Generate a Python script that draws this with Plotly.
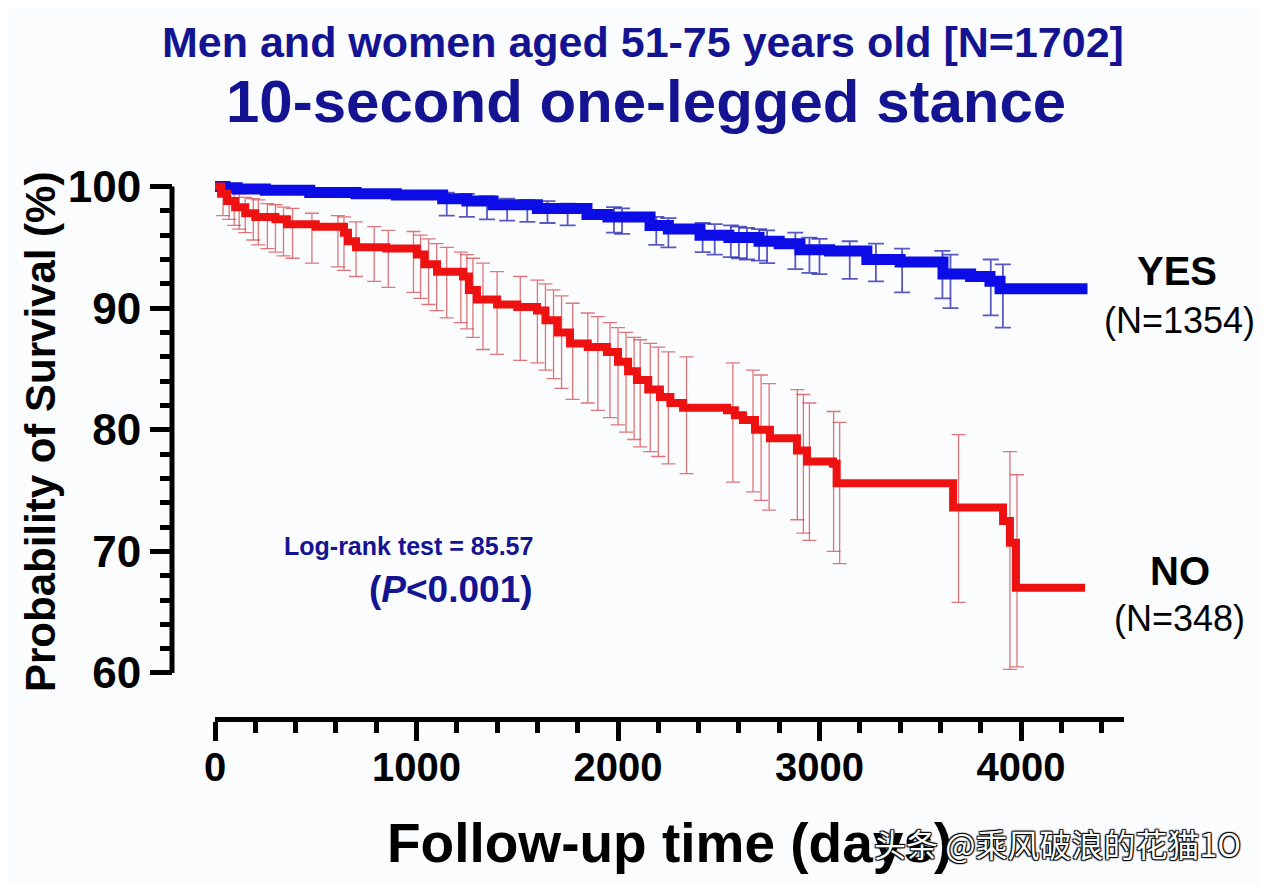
import plotly.graph_objects as go

# ---------------- data ----------------
# Kaplan-Meier step curves: follow-up time (days) and survival probability (%)
YES_T = [0, 50, 110, 250, 470, 700, 900, 1130, 1250, 1380, 1600, 1846, 1950, 2159,
         2250, 2407, 2550, 2700, 2800, 2903, 3050, 3235, 3400, 3613, 3750, 3846,
         3896, 4330]
YES_S = [100.0, 99.9, 99.8, 99.7, 99.5, 99.4, 99.3, 99.0, 98.8, 98.5, 98.2, 97.7,
         97.5, 96.8, 96.5, 96.0, 95.8, 95.5, 95.3, 94.8, 94.7, 94.0, 93.8, 92.8,
         92.6, 92.2, 91.6, 91.6]

NO_T = [0, 30, 60, 100, 150, 200, 300, 357, 500, 640, 660, 700, 850, 1002, 1040,
        1102, 1231, 1260, 1300, 1400, 1500, 1598, 1640, 1700, 1762, 1850, 1945,
        2000, 2050, 2094, 2150, 2208, 2260, 2323, 2541, 2580, 2620, 2680, 2754,
        2888, 2938, 3067, 3085, 3663, 3911, 3945, 3975, 4318]
NO_S = [100.0, 99.4, 98.8, 98.3, 97.8, 97.5, 97.3, 96.9, 96.7, 96.2, 95.5, 95.0,
        94.9, 94.4, 93.6, 93.0, 92.6, 91.5, 90.7, 90.3, 90.1, 89.8, 89.0, 88.0,
        87.1, 86.8, 86.4, 85.6, 84.8, 84.1, 83.3, 82.7, 82.2, 81.8, 81.6, 81.2,
        80.8, 80.0, 79.3, 78.3, 77.4, 77.2, 75.6, 73.6, 72.5, 70.7, 67.0, 67.0]

# confidence-interval bars: time, upper limit, lower limit (%)
YES_ERR_T = [1150, 1250, 1350, 1450, 1550, 1650, 1750, 1980, 2020, 2190, 2250, 2420,
             2480, 2560, 2600, 2640, 2700, 2740, 2880, 2950, 3000, 3150, 3280, 3410,
             3610, 3650, 3850, 3910]
YES_ERR_HI = [99.5, 99.4, 99.2, 99.0, 98.9, 98.8, 98.6, 98.3, 98.2, 97.5, 97.4, 97.0,
              96.9, 96.8, 96.7, 96.6, 96.5, 96.4, 96.2, 95.8, 95.7, 95.5, 95.3, 94.9,
              94.7, 94.4, 94.0, 93.6]
YES_ERR_LO = [97.6, 97.5, 97.3, 97.2, 97.1, 97.0, 96.8, 96.2, 96.1, 95.2, 95.0, 94.6,
              94.4, 94.2, 94.1, 94.0, 93.9, 93.7, 93.2, 92.9, 92.8, 92.4, 92.2, 91.3,
              90.8, 90.0, 89.4, 88.4]

NO_ERR_T = [40, 70, 95, 120, 150, 190, 215, 260, 300, 340, 385, 481, 610, 640, 700,
            790, 860, 985, 1020, 1060, 1100, 1150, 1220, 1250, 1280, 1330, 1400, 1515,
            1600, 1640, 1680, 1720, 1775, 1850, 1900, 1960, 2000, 2040, 2080, 2110,
            2160, 2200, 2250, 2340, 2570, 2670, 2710, 2750, 2890, 2920, 2950, 3070,
            3100, 3690, 3945, 3980]
NO_ERR_HI = [100.0, 99.8, 99.6, 99.4, 99.1, 99.0, 98.9, 98.6, 98.5, 98.3, 98.2, 97.8,
             97.6, 97.5, 97.1, 96.7, 96.4, 96.3, 96.0, 95.7, 95.3, 95.0, 94.6, 94.4,
             94.1, 93.7, 93.0, 92.6, 92.3, 92.0, 91.5, 91.0, 90.4, 89.6, 89.3, 88.8,
             88.4, 88.0, 87.6, 87.4, 87.1, 86.8, 86.4, 86.0, 85.5, 84.9, 84.5, 83.8,
             83.3, 82.9, 82.2, 81.5, 80.6, 79.6, 78.2, 76.3]
NO_ERR_LO = [97.6, 97.3, 96.8, 96.5, 96.2, 95.6, 95.2, 94.9, 94.6, 94.3, 94.1, 93.7,
             93.4, 93.1, 92.6, 92.2, 91.7, 91.3, 90.8, 90.3, 89.8, 89.2, 88.8, 88.3,
             87.6, 86.6, 86.2, 85.7, 85.5, 84.9, 84.2, 83.4, 82.5, 82.2, 81.6, 81.0,
             80.4, 79.8, 79.2, 78.6, 78.2, 77.8, 77.2, 76.4, 75.7, 74.9, 74.2, 73.4,
             72.6, 71.5, 70.9, 70.0, 69.0, 65.8, 60.3, 60.5]

X_TICKS = [0, 1000, 2000, 3000, 4000]
X_MINOR = [200, 400, 600, 800, 1200, 1400, 1600, 1800, 2200, 2400, 2600, 2800,
           3200, 3400, 3600, 3800, 4200, 4400]
Y_TICKS = [60, 70, 80, 90, 100]
Y_MINOR = [62, 64, 66, 68, 72, 74, 76, 78, 82, 84, 86, 88, 92, 94, 96, 98]

TITLE_1 = "Men and women aged 51-75 years old [N=1702]"
TITLE_2 = "10-second one-legged stance"
X_TITLE = "Follow-up time (days)"
Y_TITLE = "Probability of Survival (%)"

# ---------------- layout helpers ----------------
W, H = 1268, 886
OFF = 8          # the page body margin shifts the figure by 8px
FONT = "Liberation Sans, Arial, Helvetica, sans-serif"
NAVY = "#141492"
BLUE = "#0c0ce6"
RED = "#ee1111"
BG = "#fbfcfe"


def px(x):
    return (x - OFF) / W


def py(y):
    return 1 - (y - OFF) / H


X0_PX, X_SCALE = 215, 0.2015          # screen pixel of day 0, px per day
X_END = 4510
Y60_PX, Y100_PX = 673, 186.5
Y_TOP = 100.7                          # headroom so the thick lines are not clipped
y_per = (Y60_PX - Y100_PX) / 40.0
ytop_px = Y100_PX - (Y_TOP - 100) * y_per

fig = go.Figure()

# error bars (drawn first, under the curves)
fig.add_trace(go.Scatter(
    x=YES_ERR_T, y=YES_ERR_HI, mode="markers",
    marker=dict(size=1, color="rgba(0,0,0,0)"),
    error_y=dict(type="data", symmetric=False,
                 array=[0] * len(YES_ERR_T),
                 arrayminus=[h - l for h, l in zip(YES_ERR_HI, YES_ERR_LO)],
                 color="rgba(35,35,175,0.75)", thickness=1.8, width=8),
    hoverinfo="skip", showlegend=False))

fig.add_trace(go.Scatter(
    x=NO_ERR_T, y=NO_ERR_HI, mode="markers",
    marker=dict(size=1, color="rgba(0,0,0,0)"),
    error_y=dict(type="data", symmetric=False,
                 array=[0] * len(NO_ERR_T),
                 arrayminus=[h - l for h, l in zip(NO_ERR_HI, NO_ERR_LO)],
                 color="rgba(210,60,65,0.7)", thickness=1.3, width=7),
    hoverinfo="skip", showlegend=False))

# survival curves
fig.add_trace(go.Scatter(x=YES_T, y=YES_S, mode="lines",
                         line=dict(color=BLUE, width=11, shape="hv"),
                         name="YES", showlegend=False))
fig.add_trace(go.Scatter(x=NO_T, y=NO_S, mode="lines",
                         line=dict(color=RED, width=8, shape="hv"),
                         name="NO", showlegend=False))

fig.update_layout(
    template="none",
    width=W, height=H, autosize=False,
    margin=dict(l=0, r=0, t=0, b=0, pad=0),
    paper_bgcolor=BG, plot_bgcolor=BG,
    showlegend=False,
    xaxis=dict(
        domain=[px(X0_PX), px(X0_PX + X_END * X_SCALE)],
        range=[0, X_END], anchor="free", position=py(719), automargin=False,
        showgrid=False, zeroline=False,
        showline=True, linewidth=5, linecolor="black",
        tickmode="array", tickvals=X_TICKS, ticktext=[str(v) for v in X_TICKS],
        ticks="outside", ticklen=19, tickwidth=5, tickcolor="black",
        ticklabelstandoff=-8,
        minor=dict(tickmode="array", tickvals=X_MINOR, ticks="outside",
                   ticklen=11, tickwidth=5, tickcolor="black", showgrid=False),
        tickfont=dict(family=FONT, size=40, color="black", weight="bold"),
    ),
    yaxis=dict(
        domain=[py(Y60_PX), py(ytop_px)],
        range=[60, Y_TOP], anchor="free", position=px(172), automargin=False,
        showgrid=False, zeroline=False, showline=False,
        tickmode="array", tickvals=Y_TICKS, ticktext=[str(v) for v in Y_TICKS],
        ticks="outside", ticklen=22, tickwidth=5, tickcolor="black",
        minor=dict(tickmode="array", tickvals=Y_MINOR, ticks="outside",
                   ticklen=12, tickwidth=5, tickcolor="black", showgrid=False),
        tickfont=dict(family=FONT, size=44, color="black", weight="bold"),
    ),
)

# y axis line, ending exactly at the 60 and 100 ticks
fig.add_shape(type="line", xref="paper", yref="y",
              x0=px(172), x1=px(172), y0=60, y1=100,
              line=dict(color="black", width=5), layer="above")


def note(text, x, y, size, color="black", bold=True, angle=0, **kw):
    fig.add_annotation(
        text=text, x=px(x), y=py(y), xref="paper", yref="paper",
        xanchor="center", yanchor="middle", showarrow=False, textangle=angle,
        font=dict(family=kw.pop("family", FONT), size=size, color=color,
                  weight="bold" if bold else "normal", **kw))


note(TITLE_1, 643, 42, 43, NAVY)
note(TITLE_2, 646, 101, 60, NAVY)
note(X_TITLE, 669, 843, 55)
note(Y_TITLE, 40, 432, 42, angle=-90)
note("YES", 1177, 271, 40)
note("(N=1354)", 1179, 320, 36, bold=False)
note("NO", 1180, 571, 40)
note("(N=348)", 1179, 618, 36, bold=False)
note("Log-rank test = 85.57", 408, 546, 25, NAVY)
note("(<i>P</i>&lt;0.001)", 451, 589, 37, NAVY)
note("头条 @乘风破浪的花猫1O", 1057, 843, 32, "white", bold=False,
     family="Noto Sans CJK SC, sans-serif",
     shadow="1px 1px 1px #000, -1px -1px 1px #000, 1px -1px 1px #000, -1px 1px 1px #000")

fig.write_html("out.html")
